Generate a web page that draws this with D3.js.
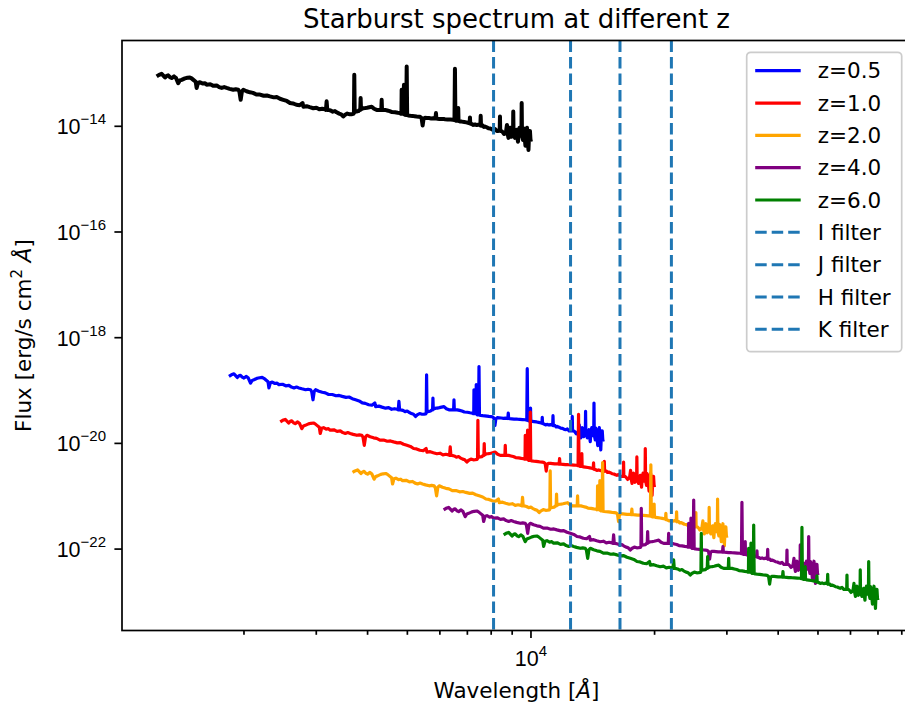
<!DOCTYPE html>
<html>
<head>
<meta charset="utf-8">
<script src="https://cdnjs.cloudflare.com/ajax/libs/d3/7.8.5/d3.min.js"></script>
<style>
    body { margin: 0; background: white; }
    svg { font-family: "DejaVu Sans", sans-serif; }
</style>
</head>
<body>
<script>
// rest frame starburst template (Angstrom, erg/s/cm2/A)
var restWave = [1229, 1246, 1264, 1276, 1288, 1300, 1311, 1324, 1337, 1355, 1370, 1387, 1400, 1414, 1440,
    1460, 1481, 1495, 1510, 1530, 1538, 1550, 1567, 1590, 1610, 1627, 1660, 1690, 1721, 1745,
    1770, 1795, 1820, 1850, 1889, 1915, 1942, 1955, 1969, 1983, 1998, 2035, 2074, 2110, 2150,
    2194, 2240, 2280, 2320, 2370, 2410, 2454, 2500, 2550, 2596, 2640, 2690, 2740, 2785, 2798,
    2850, 2900, 2958, 3010, 3060, 3110, 3158, 3176, 3188, 3200, 3219, 3260, 3300, 3340, 3372,
    3420, 3460, 3499, 3530, 3580, 3630, 3668, 3705, 3716, 3723, 3732, 3742, 3772, 3810, 3833,
    3850, 3858, 3866, 3887, 3920, 3953, 4000, 4050, 4105, 4160, 4221, 4270, 4312, 4332, 4341,
    4350, 4374, 4423, 4480, 4540, 4601, 4680, 4750, 4811, 4837, 4850, 4856, 4866, 4887, 4910,
    4919, 4930, 4952, 4982, 4995, 5008, 5039, 5100, 5160, 5220, 5282, 5340, 5382, 5430, 5462,
    5490, 5533, 5600, 5660, 5730, 5788, 5870, 5886, 5900, 5937, 6000, 6080, 6150, 6193, 6280,
    6380, 6474, 6530, 6547, 6565, 6603, 6660, 6669, 6680, 6733, 6800, 6900, 6980, 7043, 7110,
    7122, 7134, 7190, 7256, 7330, 7400, 7460, 7512, 7550, 7564, 7578, 7640, 7700, 7749, 7820,
    7900, 7980, 8050, 8117, 8200, 8280, 8358, 8415, 8428, 8440, 8499, 8560, 8620, 8667, 8720,
    8765, 8800, 8838, 8875, 8913, 8950, 8987, 9030, 9068, 9080, 9095, 9130, 9166, 9210, 9255,
    9290, 9323, 9360, 9402, 9450, 9505, 9519, 9535, 9560, 9587, 9614, 9641, 9680, 9723, 9760,
    9806, 9850, 9888, 9930, 9971, 10000, 10027];
var restFlux = [8.6e-14, 9.2e-14, 9.6e-14, 8.9e-14, 8.2e-14, 8.8e-14, 9.0e-14, 8.3e-14, 8.0e-14, 8.6e-14, 8.0e-14, 6.4e-14, 7.2e-14, 7.4e-14, 7.9e-14,
    8.1e-14, 8.2e-14, 7.9e-14, 7.4e-14, 6.8e-14, 5.2e-14, 6.5e-14, 6.7e-14, 6.3e-14, 6.4e-14, 6.0e-14, 6.1e-14, 5.7e-14, 5.8e-14, 5.4e-14,
    5.2e-14, 5.4e-14, 5.2e-14, 5.0e-14, 4.8e-14, 4.9e-14, 4.8e-14, 4.4e-14, 3.1e-14, 4.5e-14, 4.8e-14, 4.5e-14, 4.3e-14, 4.2e-14, 3.9e-14,
    3.9e-14, 3.7e-14, 3.75e-14, 3.6e-14, 3.45e-14, 3.5e-14, 3.25e-14, 3.1e-14, 2.95e-14, 2.7e-14, 2.65e-14, 2.5e-14, 2.45e-14, 2.7e-14, 2.3e-14,
    2.35e-14, 2.25e-14, 2.15e-14, 2.2e-14, 2.05e-14, 2.1e-14, 2.05e-14, 2.0e-14, 2.9e-14, 2.0e-14, 2.0e-14, 1.95e-14, 1.85e-14, 1.9e-14, 1.8e-14,
    1.7e-14, 1.65e-14, 1.5e-14, 1.6e-14, 1.7e-14, 1.65e-14, 1.66e-14, 1.68e-14, 1.75e-14, 9.2e-14, 1.84e-14, 1.84e-14, 1.87e-14, 1.9e-14, 2.0e-14,
    2.0e-14, 3.35e-14, 2.05e-14, 2.1e-14, 2.15e-14, 2.16e-14, 2.2e-14, 2.25e-14, 2.3e-14, 2.1e-14, 2.0e-14, 2.0e-14, 2.0e-14, 2.0e-14, 3.1e-14,
    2.0e-14, 2.0e-14, 2.0e-14, 1.95e-14, 1.9e-14, 1.82e-14, 1.8e-14, 1.76e-14, 1.74e-14, 1.69e-14, 1.7e-14, 4.8e-14, 1.7e-14, 1.69e-14, 1.7e-14,
    6.0e-14, 1.65e-14, 1.61e-14, 1.6e-14, 1.32e-13, 1.6e-14, 1.57e-14, 1.55e-14, 1.54e-14, 1.52e-14, 1.5e-14, 1.49e-14, 1.48e-14, 1.4e-14, 1.01e-14,
    1.35e-14, 1.42e-14, 1.41e-14, 1.4e-14, 1.38e-14, 1.39e-14, 1.37e-14, 1.74e-14, 1.37e-14, 1.36e-14, 1.35e-14, 1.34e-14, 1.34e-14, 1.33e-14, 1.32e-14,
    1.31e-14, 1.3e-14, 1.28e-14, 1.2e-13, 1.27e-14, 1.24e-14, 1.24e-14, 2.16e-14, 1.24e-14, 1.21e-14, 1.2e-14, 1.18e-14, 1.16e-14, 1.14e-14, 1.12e-14,
    1.44e-14, 1.1e-14, 1.08e-14, 1.04e-14, 1.06e-14, 1.03e-14, 1.05e-14, 1.04e-14, 1.02e-14, 1.55e-14, 1.0e-14, 1.02e-14, 9.5e-15, 9.7e-15, 9.4e-15,
    9.0e-15, 8.9e-15, 8.6e-15, 8.4e-15, 8.7e-15, 8.0e-15, 8.0e-15, 8.1e-15, 1.5e-14, 8.0e-15, 8.0e-15, 7.6e-15, 7.0e-15, 7.3e-15, 7.8e-15,
    1.04e-14, 7.0e-15, 5.9e-15, 8.5e-15, 9.2e-15, 7.0e-15, 6.2e-15, 7.5e-15, 7.2e-15, 1.87e-14, 7.0e-15, 6.5e-15, 5.9e-15, 7.5e-15, 8.4e-15,
    6.0e-15, 5.0e-15, 8.0e-15, 9.2e-15, 6.5e-15, 7.0e-15, 2.69e-14, 7.0e-15, 6.0e-15, 5.4e-15, 9.0e-15, 8.4e-15, 6.0e-15, 4.2e-15, 7.5e-15,
    9.2e-15, 6.0e-15, 3.5e-15, 8.0e-15, 8.0e-15, 5.5e-15, 5.0e-15];

// redshifted copies: z, flux factor, colour
var redshifts = [0.5, 1.0, 2.0, 4.0, 6.0];
var fluxFactor = [2.11e-6, 2.90e-7, 3.21e-8, 6.27e-9, 2.11e-9];
var zColours = ["blue", "red", "orange", "purple", "green"];

// filter positions (Angstrom)
var filterNames = ["I filter", "J filter", "H filter", "K filter"];
var filterWave = [8130, 12520, 16520, 22040];

var xTicksMajor = [1e4];
var xTicksMinor = [2000, 3000, 4000, 5000, 6000, 7000, 8000, 9000,
    20000, 30000, 40000, 50000, 60000, 70000, 80000, 90000];
var yTicks = [-14, -16, -18, -20, -22];

var width = 905, height = 708;
var margin = {top: 40.5, left: 122, bottom: 630.5, right: 911};
var fs = 21.5;

var svg = d3.select("body").append("svg")
    .attr("width", width)
    .attr("height", height)
    .style("background", "white");

var x = d3.scaleLog()
    .domain([1012, 84480])
    .range([margin.left, margin.right]);
var y = d3.scaleLog()
    .domain([Math.pow(10, -23.55), Math.pow(10, -12.386)])
    .range([margin.bottom, margin.top]);

var line = d3.line()
    .x(function(d) { return x(d[0]); })
    .y(function(d) { return y(d[1]); });

var plot = svg.append("g");

// black template
var template = restWave.map(function(w, i) { return [w, restFlux[i]]; });
plot.append("path")
    .datum(template)
    .attr("fill", "none")
    .attr("stroke", "black")
    .attr("stroke-width", 4)
    .attr("stroke-linejoin", "round")
    .attr("d", line);

// shifted spectra
redshifts.forEach(function(z, k) {
    var shifted = restWave.map(function(w, i) {
        return [w * (1 + z), restFlux[i] * fluxFactor[k]];
    });
    plot.append("path")
        .datum(shifted)
        .attr("fill", "none")
        .attr("stroke", zColours[k])
        .attr("stroke-width", 3.2)
        .attr("stroke-linejoin", "round")
        .attr("d", line);
});

// filter lines
plot.selectAll(".filter")
    .data(filterWave)
    .enter()
    .append("line")
    .attr("class", "filter")
    .attr("x1", function(d) { return x(d); })
    .attr("x2", function(d) { return x(d); })
    .attr("y1", margin.top)
    .attr("y2", margin.bottom)
    .attr("stroke", "#1f77b4")
    .attr("stroke-width", 3)
    .attr("stroke-dasharray", "11.5,5");

// axes
var xAxisMinor = d3.axisBottom(x)
    .tickValues(xTicksMinor)
    .tickSize(4.3)
    .tickFormat("");
var xAxis = d3.axisBottom(x)
    .tickValues(xTicksMajor)
    .tickSize(7.6)
    .tickFormat("");
var yAxis = d3.axisLeft(y)
    .tickValues(yTicks.map(function(p) { return Math.pow(10, p); }))
    .tickSize(7.6)
    .tickFormat("");

var gxm = svg.append("g")
    .attr("transform", "translate(0," + margin.bottom + ")")
    .call(xAxisMinor);
var gx = svg.append("g")
    .attr("transform", "translate(0," + margin.bottom + ")")
    .call(xAxis);
var gy = svg.append("g")
    .attr("transform", "translate(" + margin.left + ",0)")
    .call(yAxis);
[gxm, gx, gy].forEach(function(g) {
    g.select(".domain").remove();
    g.selectAll(".tick line").attr("stroke", "black").attr("stroke-width", 1.7);
});

// tick labels as 10^n
gx.selectAll(".tick").each(function(d) {
    var t = d3.select(this).append("text")
        .attr("y", 35)
        .attr("fill", "black")
        .attr("text-anchor", "middle")
        .style("font-size", fs + "px");
    t.append("tspan").text("10");
    t.append("tspan").attr("dy", -10).style("font-size", "15px")
        .text(Math.round(Math.log10(d)));
});
gy.selectAll(".tick").each(function(d) {
    var t = d3.select(this).append("text")
        .attr("x", -16)
        .attr("y", 8)
        .attr("fill", "black")
        .attr("text-anchor", "end")
        .style("font-size", fs + "px");
    t.append("tspan").text("10");
    t.append("tspan").attr("dy", -10).style("font-size", "15px")
        .text("\u2212" + Math.abs(Math.round(Math.log10(d))));
});

// frame
svg.append("rect")
    .attr("x", margin.left)
    .attr("y", margin.top)
    .attr("width", margin.right - margin.left)
    .attr("height", margin.bottom - margin.top)
    .attr("fill", "none")
    .attr("stroke", "black")
    .attr("stroke-width", 1.7);

// title and labels
svg.append("text")
    .attr("x", (margin.left + margin.right) / 2)
    .attr("y", 28)
    .attr("text-anchor", "middle")
    .style("font-size", "26px")
    .text("Starburst spectrum at different z");

var xl = svg.append("text")
    .attr("x", (margin.left + margin.right) / 2)
    .attr("y", 698)
    .attr("text-anchor", "middle")
    .style("font-size", fs + "px");
xl.append("tspan").text("Wavelength [");
xl.append("tspan").style("font-style", "italic").text("\u00c5");
xl.append("tspan").text("]");

var yl = svg.append("text")
    .attr("transform", "translate(31," + ((margin.top + margin.bottom) / 2) + ") rotate(-90)")
    .attr("text-anchor", "middle")
    .style("font-size", fs + "px");
yl.append("tspan").text("Flux [erg/s cm");
yl.append("tspan").attr("dy", -9).style("font-size", "15px").text("2");
yl.append("tspan").attr("dy", 9).text(" ");
yl.append("tspan").style("font-style", "italic").text("\u00c5");
yl.append("tspan").text("]");

// legend
var legendLabels = redshifts.map(function(z) { return "z=" + z.toFixed(1); }).concat(filterNames);
var legendColours = zColours.concat(filterNames.map(function() { return "#1f77b4"; }));

var legend = svg.append("g").attr("transform", "translate(746.7,52.3)");
legend.append("rect")
    .attr("width", 155)
    .attr("height", 299.4)
    .attr("rx", 4)
    .attr("fill", "white")
    .attr("fill-opacity", 0.8)
    .attr("stroke", "#cccccc")
    .attr("stroke-width", 1.7);

var item = legend.selectAll(".legend")
    .data(legendLabels)
    .enter()
    .append("g")
    .attr("class", "legend")
    .attr("transform", function(d, i) { return "translate(0," + (18.4 + i * 32.33) + ")"; });
item.append("line")
    .attr("x1", 8.5)
    .attr("x2", 54)
    .attr("stroke", function(d, i) { return legendColours[i]; })
    .attr("stroke-width", function(d, i) { return i < 5 ? 3.2 : 3; })
    .attr("stroke-dasharray", function(d, i) { return i < 5 ? null : "11.5,5"; });
item.append("text")
    .attr("x", 71)
    .attr("y", 7.5)
    .style("font-size", fs + "px")
    .text(function(d) { return d; });
</script>
</body>
</html>
